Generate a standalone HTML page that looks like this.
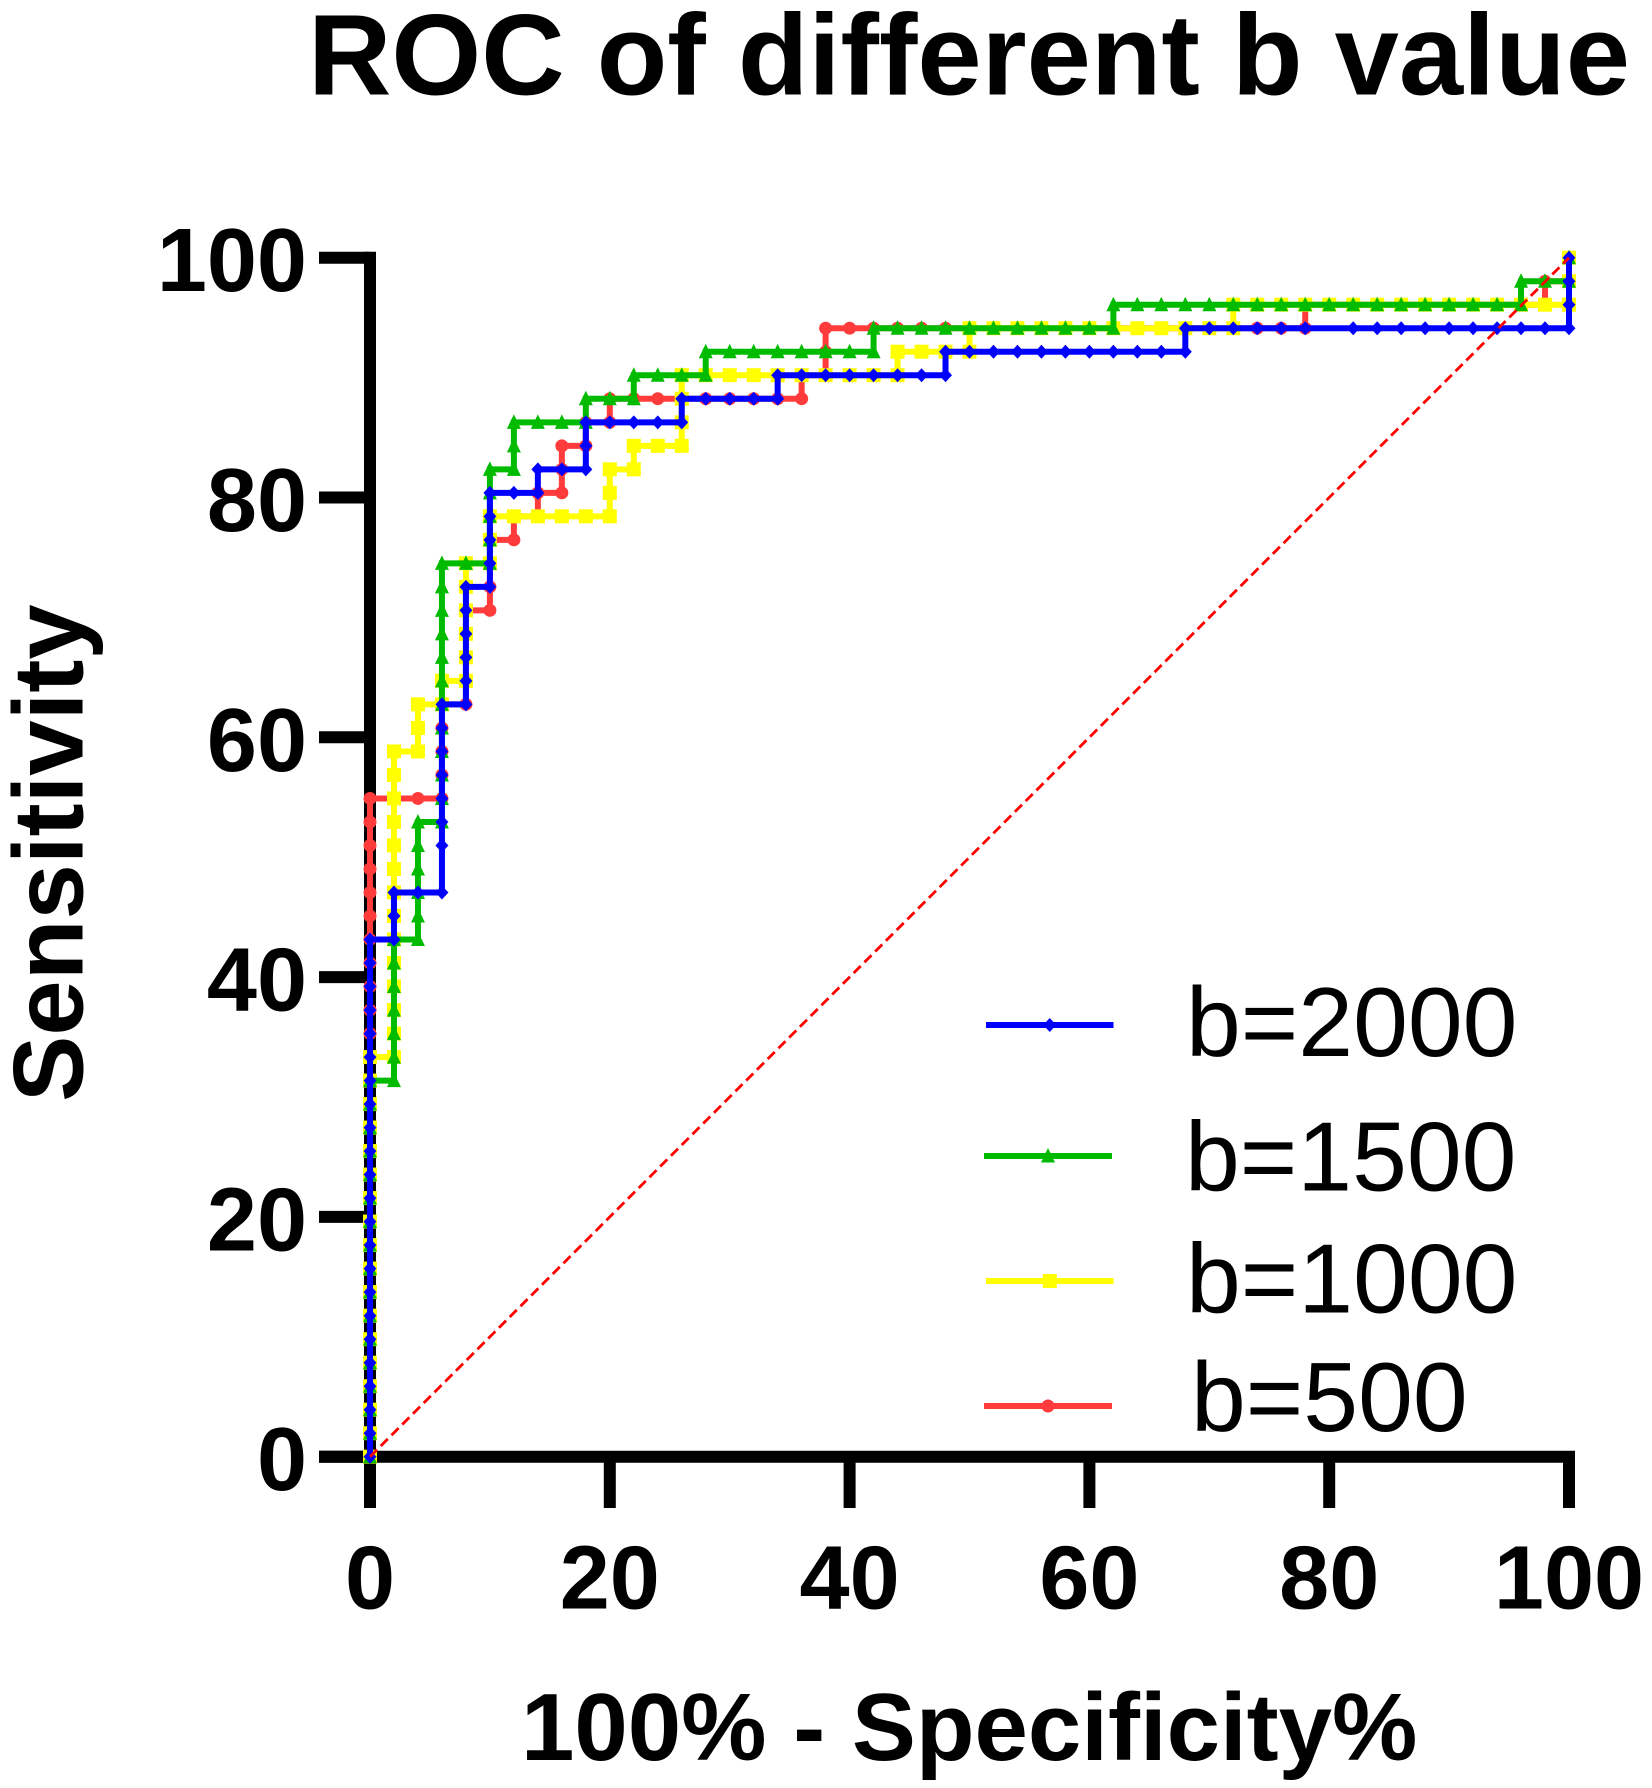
<!DOCTYPE html>
<html>
<head>
<meta charset="utf-8">
<title>ROC of different b value</title>
<style>
html,body{margin:0;padding:0;background:#fff;}
svg{display:block;}
text{font-family:"Liberation Sans",Arial,sans-serif;fill:#000;}
.bold{font-weight:bold;}
</style>
</head>
<body>
<svg id="chart" xmlns="http://www.w3.org/2000/svg" width="1652" height="1788" viewBox="0 0 1652 1788">
  <rect x="0" y="0" width="1652" height="1788" fill="#ffffff"/>
  <text class="bold" x="308" y="94.7" font-size="115.5">ROC of different b value</text>
  <text class="bold" font-size="99.5" transform="translate(82.5,1102) rotate(-90)">Sensitivity</text>
  <text class="bold" x="521" y="1760" font-size="96">100% - Specificity%</text>
  <g id="axes"></g>
  <g id="series"></g>
  <g id="legend"></g>
</svg>
<script>
var xTickLabels = [0, 20, 40, 60, 80, 100];
var yTickLabels = [0, 20, 40, 60, 80, 100];
var diagonalValues = [0, 100];

var b500Fpr = [0,0,0,0,0,0,0,0,0,0,0,0,0,0,0,0,0,0,0,0,0,0,0,0,0,0,0,0,0,
  2,4,6,6,6,6,6,8,8,8,8,8,10,10,10,10,12,12,14,14,16,16,16,18,18,20,20,
  22,24,26,28,30,32,34,36,36,38,38,38,
  40,42,44,46,48,50,52,54,56,58,60,62,64,66,68,70,72,74,76,78,78,
  80,82,84,86,88,90,92,94,96,98,98,100,100];
var b500Sens = [0,1.96,3.92,5.88,7.84,9.80,11.76,13.73,15.69,17.65,19.61,21.57,23.53,25.49,27.45,29.41,31.37,33.33,35.29,37.25,39.22,41.18,43.14,45.10,47.06,49.02,50.98,52.94,54.90,
  54.90,54.90,54.90,56.86,58.82,60.78,62.75,62.75,64.71,66.67,68.63,70.59,70.59,72.55,74.51,76.47,76.47,78.43,78.43,80.39,80.39,82.35,84.31,84.31,86.27,86.27,88.24,
  88.24,88.24,88.24,88.24,88.24,88.24,88.24,88.24,90.20,90.20,92.16,94.12,
  94.12,94.12,94.12,94.12,94.12,94.12,94.12,94.12,94.12,94.12,94.12,94.12,94.12,94.12,94.12,94.12,94.12,94.12,94.12,94.12,96.08,
  96.08,96.08,96.08,96.08,96.08,96.08,96.08,96.08,96.08,96.08,98.04,98.04,100];

var b1000Fpr = [0,0,0,0,0,0,0,0,0,0,0,0,0,0,0,0,0,0,
  2,2,2,2,2,2,2,2,2,2,2,2,2,2,
  4,4,4,6,6,8,8,8,8,8,8,10,10,10,12,14,16,18,20,20,20,22,22,24,26,26,26,26,
  28,30,32,34,36,38,40,42,44,44,46,48,50,50,
  52,54,56,58,60,62,64,66,68,70,72,72,
  74,76,78,80,82,84,86,88,90,92,94,96,98,100,100,100];
var b1000Sens = [0,1.96,3.92,5.88,7.84,9.80,11.76,13.73,15.69,17.65,19.61,21.57,23.53,25.49,27.45,29.41,31.37,33.33,
  33.33,35.29,37.25,39.22,41.18,43.14,45.10,47.06,49.02,50.98,52.94,54.90,56.86,58.82,
  58.82,60.78,62.75,62.75,64.71,64.71,66.67,68.63,70.59,72.55,74.51,74.51,76.47,78.43,78.43,78.43,78.43,78.43,78.43,80.39,82.35,82.35,84.31,84.31,84.31,86.27,88.24,90.20,
  90.20,90.20,90.20,90.20,90.20,90.20,90.20,90.20,90.20,92.16,92.16,92.16,92.16,94.12,
  94.12,94.12,94.12,94.12,94.12,94.12,94.12,94.12,94.12,94.12,94.12,96.08,
  96.08,96.08,96.08,96.08,96.08,96.08,96.08,96.08,96.08,96.08,96.08,96.08,96.08,96.08,98.04,100];

var b1500Fpr = [0,0,0,0,0,0,0,0,0,0,0,0,0,0,0,0,0,
  2,2,2,2,2,2,2,4,4,4,4,4,4,
  6,6,6,6,6,6,6,6,6,6,6,6,8,10,10,10,10,10,12,12,12,14,16,18,18,
  20,22,22,24,26,28,28,30,32,34,36,38,40,42,42,
  44,46,48,50,52,54,56,58,60,62,62,
  64,66,68,70,72,74,76,78,80,82,84,86,88,90,92,94,96,96,98,100,100];
var b1500Sens = [0,1.96,3.92,5.88,7.84,9.80,11.76,13.73,15.69,17.65,19.61,21.57,23.53,25.49,27.45,29.41,31.37,
  31.37,33.33,35.29,37.25,39.22,41.18,43.14,43.14,45.10,47.06,49.02,50.98,52.94,
  52.94,54.90,56.86,58.82,60.78,62.75,64.71,66.67,68.63,70.59,72.55,74.51,74.51,74.51,76.47,78.43,80.39,82.35,82.35,84.31,86.27,86.27,86.27,86.27,88.24,
  88.24,88.24,90.20,90.20,90.20,90.20,92.16,92.16,92.16,92.16,92.16,92.16,92.16,92.16,94.12,
  94.12,94.12,94.12,94.12,94.12,94.12,94.12,94.12,94.12,94.12,96.08,
  96.08,96.08,96.08,96.08,96.08,96.08,96.08,96.08,96.08,96.08,96.08,96.08,96.08,96.08,96.08,96.08,96.08,98.04,98.04,98.04,100];

var b2000Fpr = [0,0,0,0,0,0,0,0,0,0,0,0,0,0,0,0,0,0,0,0,0,0,0,
  2,2,2,4,6,6,6,6,6,6,6,6,8,8,8,8,8,8,10,10,10,10,10,
  12,14,14,16,18,18,18,20,22,24,26,26,28,30,32,34,34,36,38,40,42,44,46,48,48,
  50,52,54,56,58,60,62,64,66,68,68,70,72,74,76,78,82,84,86,88,90,92,94,96,98,100,100,100,100];
var b2000Sens = [0,1.96,3.92,5.88,7.84,9.80,11.76,13.73,15.69,17.65,19.61,21.57,23.53,25.49,27.45,29.41,31.37,33.33,35.29,37.25,39.22,41.18,43.14,
  43.14,45.10,47.06,47.06,47.06,50.98,52.94,54.90,56.86,58.82,60.78,62.75,62.75,64.71,66.67,68.63,70.59,72.55,72.55,74.51,76.47,78.43,80.39,
  80.39,80.39,82.35,82.35,82.35,84.31,86.27,86.27,86.27,86.27,86.27,88.24,88.24,88.24,88.24,88.24,90.20,90.20,90.20,90.20,90.20,90.20,90.20,90.20,92.16,
  92.16,92.16,92.16,92.16,92.16,92.16,92.16,92.16,92.16,92.16,94.12,94.12,94.12,94.12,94.12,94.12,94.12,94.12,94.12,94.12,94.12,94.12,94.12,94.12,94.12,94.12,96.08,98.04,100];

var NS = 'http://www.w3.org/2000/svg';
var X0 = 370, Y0 = 1456.7, SCALE = 11.99;
function xAxis(v){ return X0 + SCALE * v; }
function yAxis(v){ return Y0 - SCALE * v; }
function mk(tag, parent, attrs){
  var el = document.createElementNS(NS, tag);
  for (var k in attrs) el.setAttribute(k, attrs[k]);
  parent.appendChild(el);
  return el;
}

var axes = document.getElementById('axes');
var seriesLayer = document.getElementById('series');
var legendLayer = document.getElementById('legend');

/* axes */
var yLine = mk('line', axes, {x1:X0, x2:X0, y1:yAxis(100)-6, y2:1508, stroke:'#000', 'stroke-width':12});


var xLine = mk('line', axes, {x1:319, x2:xAxis(100)+6, y1:Y0, y2:Y0, stroke:'#000', 'stroke-width':12});



yTickLabels.forEach(function(v){
  var t = mk('line', axes, {x1:319, x2:X0, y1:yAxis(v), y2:yAxis(v), stroke:'#000', 'stroke-width':12});
  
  
  var l = mk('text', axes, {x:307, y:yAxis(v)+33.5, 'font-size':90, 'text-anchor':'end', 'class':'bold'});
  
  
  l.textContent = v;
});
xTickLabels.forEach(function(v){
  var t = mk('line', axes, {x1:xAxis(v), x2:xAxis(v), y1:Y0, y2:1508, stroke:'#000', 'stroke-width':12});
  
  
  var l = mk('text', axes, {x:xAxis(v), y:1608.5, 'font-size':90, 'text-anchor':'middle', 'class':'bold'});
  
  
  l.textContent = v;
});

/* markers */
function marker(shape, parent, cx, cy, color){
  if (shape === 'circle') return mk('circle', parent, {cx:cx, cy:cy, r:6.5, fill:color});
  if (shape === 'square') return mk('rect', parent, {x:cx-7, y:cy-7, width:14, height:14, fill:color});
  if (shape === 'triangle') return mk('polygon', parent, {points:(cx)+','+(cy-8)+' '+(cx+7)+','+(cy+6.5)+' '+(cx-7)+','+(cy+6.5), fill:color});
  return mk('polygon', parent, {points:(cx)+','+(cy-7)+' '+(cx+6.5)+','+(cy)+' '+(cx)+','+(cy+7)+' '+(cx-6.5)+','+(cy), fill:color});
}

function drawSeries(name, fpr, sens, color, shape){
  var g = mk('g', seriesLayer, {});
  
  
  var pts = fpr.map(function(v, i){ return xAxis(v).toFixed(2) + ',' + yAxis(sens[i]).toFixed(2); }).join(' ');
  var line = mk('polyline', g, {points:pts, fill:'none', stroke:color, 'stroke-width':6, 'stroke-linejoin':'miter'});
  
  
  fpr.forEach(function(v, i){
    var m = marker(shape, g, xAxis(v), yAxis(sens[i]), color);
    
    
  });
}

drawSeries('b500', b500Fpr, b500Sens, '#ff3b3b', 'circle');
drawSeries('b1000', b1000Fpr, b1000Sens, '#ffff00', 'square');
drawSeries('b1500', b1500Fpr, b1500Sens, '#00bb00', 'triangle');
drawSeries('b2000', b2000Fpr, b2000Sens, '#0000ff', 'diamond');

var diag = mk('line', seriesLayer, {x1:xAxis(diagonalValues[0]), y1:yAxis(diagonalValues[0]), x2:xAxis(diagonalValues[1]), y2:yAxis(diagonalValues[1]), stroke:'#ff0000', 'stroke-width':2.8, 'stroke-dasharray':'10 5.2'});



/* legend */
function legendEntry(name, label, x1, x2, y, color, shape, tx, ty){
  var g = mk('g', legendLayer, {});
  
  
  var l = mk('line', g, {x1:x1, x2:x2, y1:y, y2:y, stroke:color, 'stroke-width':6});
  
  
  var m = marker(shape, g, (x1+x2)/2, y, color);
  
  
  var t = mk('text', g, {x:tx, y:ty, 'font-size':98.5});
  
  
  t.textContent = label;
}
legendEntry('b2000', 'b=2000', 986, 1113.5, 1025, '#0000ff', 'diamond', 1186, 1056);
legendEntry('b1500', 'b=1500', 984, 1112, 1156, '#00bb00', 'triangle', 1185, 1190.5);
legendEntry('b1000', 'b=1000', 986, 1113.5, 1281, '#ffff00', 'square', 1186, 1312.5);
legendEntry('b500', 'b=500', 984, 1112, 1406, '#ff3b3b', 'circle', 1191, 1431);
</script>
</body>
</html>
